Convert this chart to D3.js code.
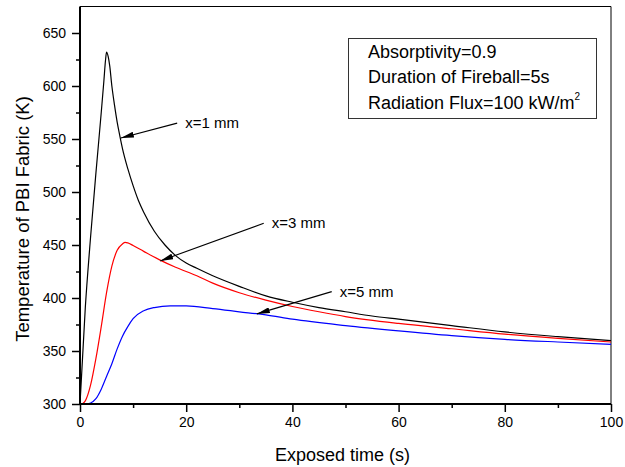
<!DOCTYPE html>
<html>
<head>
<meta charset="utf-8">
<script src="https://cdn.jsdelivr.net/npm/d3@7"></script>
<style>
  html, body { margin: 0; padding: 0; background: #fff; }
  svg { display: block; font-family: Arial, "Liberation Sans", Helvetica, sans-serif; }
</style>
</head>
<body>
<svg id="chart" width="625" height="467"></svg>
<script>
// ---- data ----
const timeX1 = [0, 1, 2, 3, 4, 4.5, 4.8, 5, 5.3, 5.6, 6, 6.5, 7, 7.5, 8, 9, 10, 11, 12, 14, 16, 18, 20, 22, 25, 30, 35, 40, 45, 50, 55, 60, 70, 80, 90, 100];
const tempX1 = [300, 391, 458, 518, 575, 605, 624, 632, 628, 619, 600, 582, 566, 553, 541, 522, 506, 492, 481, 463, 450, 440, 433, 428, 421, 411, 402, 396, 391, 387, 383, 380, 374, 368, 363.5, 359.7];

const timeX3 = [0, 0.5, 1, 2, 3, 4, 5, 6, 7, 8, 8.5, 9, 10, 12, 15, 18, 22, 25, 30, 35, 40, 45, 50, 60, 70, 80, 90, 100];
const tempX3 = [300, 300.5, 303, 318, 343, 373, 405, 430, 445, 451, 452.5, 452, 449.5, 444, 436, 429, 421, 414, 405, 398, 392, 387, 382.5, 376, 371, 366, 362, 358.5];

const timeX5 = [0, 1, 2, 3, 4, 5, 6, 7, 8, 9, 10, 12, 14, 17, 20, 25, 30, 35, 40, 50, 60, 70, 80, 90, 100];
const tempX5 = [300, 300, 301, 305, 314, 326, 338, 352, 364, 373, 380.5, 388, 391, 392.5, 392.5, 390, 387, 384, 380, 374, 369, 364.5, 361, 358.5, 356.3];

const seriesNames = ["x=1 mm", "x=3 mm", "x=5 mm"];
const seriesColors = ["#000000", "#ff0000", "#0000ff"];

const xTicks = [0, 20, 40, 60, 80, 100];
const xMinorTicks = [10, 30, 50, 70, 90];
const yTicks = [300, 350, 400, 450, 500, 550, 600, 650];
const yMinorTicks = [325, 375, 425, 475, 525, 575, 625];

const legendLines = ["Absorptivity=0.9", "Duration of Fireball=5s", "Radiation Flux=100 kW/m"];

// annotation anchors in data units: arrow tail and arrow tip
const annoX1 = {label: "x=1 mm", tail: [18.3, 565], tip: [7.7, 551]};
const annoX3 = {label: "x=3 mm", tail: [34.6, 470.5], tip: [15.1, 435]};
const annoX5 = {label: "x=5 mm", tail: [47.4, 406], tip: [33.3, 385]};

// ---- layout ----
const svg = d3.select("#chart");
const mLeft = 80, mRight = 611, mTop = 6.5, mBottom = 404;

const x = d3.scaleLinear().domain([0, 100]).range([mLeft, mRight]);
const y = d3.scaleLinear().domain([300, 675]).range([mBottom, mTop]);

// frame (top & right thin)
svg.append("line").attr("x1", mLeft).attr("x2", mRight).attr("y1", mTop).attr("y2", mTop)
  .attr("stroke", "#000").attr("stroke-width", 1);
svg.append("line").attr("x1", mRight).attr("x2", mRight).attr("y1", mTop).attr("y2", mBottom)
  .attr("stroke", "#000").attr("stroke-width", 1);

// curves
const series = [
  {t: timeX1, v: tempX1},
  {t: timeX3, v: tempX3},
  {t: timeX5, v: tempX5}
];
const line = d3.line().x(d => x(d[0])).y(d => y(d[1])).curve(d3.curveMonotoneX);
series.forEach((s, i) => {
  const pts = s.t.map((t, j) => [t, s.v[j]]);
  svg.append("path").datum(pts).attr("d", line)
    .attr("fill", "none").attr("stroke", seriesColors[i]).attr("stroke-width", 1.2);
});

// axes
const xAxis = d3.axisBottom(x).tickValues(xTicks).tickSize(8).tickPadding(5).tickFormat(d3.format("d"));
const gx = svg.append("g").attr("transform", `translate(0,${mBottom})`).call(xAxis);
gx.selectAll(".tick text").attr("font-size", 14).attr("font-family", "Arial, 'Liberation Sans', sans-serif").attr("fill", "#000");
const gxm = svg.append("g").attr("transform", `translate(0,${mBottom})`)
  .call(d3.axisBottom(x).tickValues(xMinorTicks).tickSize(4).tickFormat(""));
gxm.select(".domain").remove();

const yAxis = d3.axisLeft(y).tickValues(yTicks).tickSize(8).tickPadding(6).tickFormat(d3.format("d"));
const gy = svg.append("g").attr("transform", `translate(${mLeft},0)`).call(yAxis);
gy.selectAll(".tick text").attr("font-size", 14).attr("font-family", "Arial, 'Liberation Sans', sans-serif").attr("fill", "#000");
const gym = svg.append("g").attr("transform", `translate(${mLeft},0)`)
  .call(d3.axisLeft(y).tickValues(yMinorTicks).tickSize(4).tickFormat(""));
gym.select(".domain").remove();

[gx, gy, gxm, gym].forEach(g => {
  g.selectAll(".tick line").attr("stroke", "#000").attr("stroke-width", 1.5);
  g.select(".domain").attr("stroke", "#000").attr("stroke-width", 2);
});
gx.select(".domain").attr("d", `M${mLeft},0H${mRight}`);
gy.select(".domain").attr("d", `M0,${mBottom}V${mTop}`);

// axis titles
svg.append("text").attr("x", (mLeft + mRight) / 2 - 3).attr("y", 461)
  .attr("text-anchor", "middle").attr("font-size", 18).attr("fill", "#000")
  .text("Exposed time (s)");
svg.append("text").attr("transform", `translate(29,219) rotate(-90)`)
  .attr("text-anchor", "middle").attr("font-size", 18.5).attr("fill", "#000")
  .text("Temperature of PBI Fabric (K)");

// legend box
svg.append("rect").attr("x", 348.5).attr("y", 38.5).attr("width", 248).attr("height", 80)
  .attr("fill", "#fff").attr("stroke", "#333").attr("stroke-width", 1);
const lg = svg.append("g").attr("font-size", 18).attr("fill", "#000");
const baselines = [58, 83, 109];
legendLines.forEach((txt, i) => {
  const t = lg.append("text").attr("x", 368).attr("y", baselines[i]).text(txt);
  if (i === 2) {
    t.append("tspan").attr("font-size", 10).attr("dy", -9).text("2");
  }
});

// arrow marker
svg.append("defs").append("marker")
  .attr("id", "arrow").attr("viewBox", "0 0 13 6").attr("refX", 13).attr("refY", 3)
  .attr("markerWidth", 13).attr("markerHeight", 6).attr("markerUnits", "userSpaceOnUse")
  .attr("orient", "auto")
  .append("path").attr("d", "M0,0L13,3L0,6Z").attr("fill", "#000");

[annoX1, annoX3, annoX5].forEach(a => {
  const x1 = x(a.tail[0]), y1 = y(a.tail[1]);
  const x2 = x(a.tip[0]), y2 = y(a.tip[1]);
  svg.append("line").attr("x1", x1).attr("y1", y1).attr("x2", x2).attr("y2", y2)
    .attr("stroke", "#000").attr("stroke-width", 1.1).attr("marker-end", "url(#arrow)");
  svg.append("text").attr("x", x1 + 8).attr("y", y1 + 5)
    .attr("font-size", 15).attr("fill", "#000").text(a.label);
});
</script>
</body>
</html>
